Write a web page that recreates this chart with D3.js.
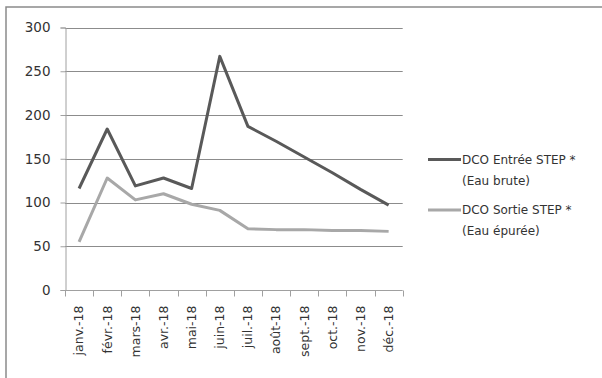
<!DOCTYPE html>
<html>
<head>
<meta charset="utf-8">
<script src="https://cdn.jsdelivr.net/npm/d3@7"></script>
<style>
  html, body { margin: 0; padding: 0; background: #fff; }
  svg { display: block; font-family: "DejaVu Sans", sans-serif; }
</style>
</head>
<body>
<svg id="chart" width="602" height="378"></svg>
<script>
// Monthly COD (DCO) at the treatment plant inlet and outlet, 2018
const months = ["janv.-18", "févr.-18", "mars-18", "avr.-18", "mai-18", "juin-18",
                "juil.-18", "août-18", "sept.-18", "oct.-18", "nov.-18", "déc.-18"];
const dcoEntree = [116, 184, 119, 128, 116, 267, 187, 170, 152, 134, 115, 97];
const dcoSortie = [55, 128, 103, 110, 98, 91, 70, 69, 69, 68, 68, 67];
const yTicks = [0, 50, 100, 150, 200, 250, 300];
const seriesNames = [
  ["DCO Entrée STEP *", "(Eau brute)"],
  ["DCO Sortie STEP *", "(Eau épurée)"]
];

const svg = d3.select("#chart");

// frame of the chart area
svg.append("path")
  .attr("d", "M6,400 L6,7 L610,7")
  .attr("fill", "none")
  .attr("stroke", "#8a8a8a")
  .attr("stroke-width", 1.5);

const plot = { left: 65, right: 402.7, top: 27.5, bottom: 290 };

const x = d3.scaleBand().domain(months).range([plot.left, plot.right]);
const y = d3.scaleLinear().domain([0, 300]).range([plot.bottom, plot.top]);

// horizontal gridlines
svg.append("g")
  .selectAll("line")
  .data(yTicks.filter(d => d > 0))
  .join("line")
  .attr("x1", plot.left).attr("x2", plot.right)
  .attr("y1", d => Math.round(y(d)) + 0.5).attr("y2", d => Math.round(y(d)) + 0.5)
  .attr("stroke", "#8c8c8c");

// y axis
const yAxis = svg.append("g")
  .attr("transform", `translate(${plot.left + 0.5},0)`)
  .call(d3.axisLeft(y).tickValues(yTicks).tickSize(5).tickPadding(10).tickFormat(d3.format("d")));
yAxis.select(".domain").attr("stroke", "#a0a0a0");
yAxis.selectAll(".tick line").attr("stroke", "#a0a0a0");
yAxis.selectAll(".tick text")
  .attr("fill", "#333")
  .style("font-size", "13.5px")
  .style("font-family", "DejaVu Sans, sans-serif");

// x axis: ticks between categories
const xAxisG = svg.append("g").attr("transform", `translate(0,${Math.round(plot.bottom) + 0.5})`);
xAxisG.append("line")
  .attr("x1", plot.left).attr("x2", plot.right)
  .attr("stroke", "#a0a0a0");
xAxisG.selectAll("line.tk")
  .data(months.map(m => x(m)).concat([plot.right]))
  .join("line")
  .attr("class", "tk")
  .attr("x1", d => Math.round(d) + 0.5).attr("x2", d => Math.round(d) + 0.5)
  .attr("y1", 0).attr("y2", 6)
  .attr("stroke", "#a0a0a0");
xAxisG.selectAll("text")
  .data(months)
  .join("text")
  .attr("transform", d => `translate(${x(d) + x.bandwidth() / 2},15) rotate(-90)`)
  .attr("text-anchor", "end")
  .attr("dy", "0.35em")
  .attr("fill", "#333")
  .style("font-size", "12.5px")
  .text(d => d);

// series lines
const line = d3.line()
  .x((d, i) => x(months[i]) + x.bandwidth() / 2)
  .y(d => y(d));

const series = [
  { values: dcoSortie, color: "#a8a8a8" },
  { values: dcoEntree, color: "#595959" }
];
svg.append("g")
  .selectAll("path")
  .data(series)
  .join("path")
  .attr("d", d => line(d.values))
  .attr("fill", "none")
  .attr("stroke", d => d.color)
  .attr("stroke-width", 3)
  .attr("stroke-linejoin", "round");

// legend
const legendColors = ["#595959", "#a8a8a8"];
const legendY = [159.5, 210];
const legend = svg.append("g");
seriesNames.forEach((lines, i) => {
  legend.append("line")
    .attr("x1", 428).attr("x2", 461)
    .attr("y1", legendY[i]).attr("y2", legendY[i])
    .attr("stroke", legendColors[i])
    .attr("stroke-width", 3);
  lines.forEach((t, j) => {
    legend.append("text")
      .attr("x", 462)
      .attr("y", legendY[i] + j * 21)
      .attr("dy", "0.35em")
      .attr("fill", "#333")
      .style("font-size", "12px")
      .text(t);
  });
});
</script>
</body>
</html>
